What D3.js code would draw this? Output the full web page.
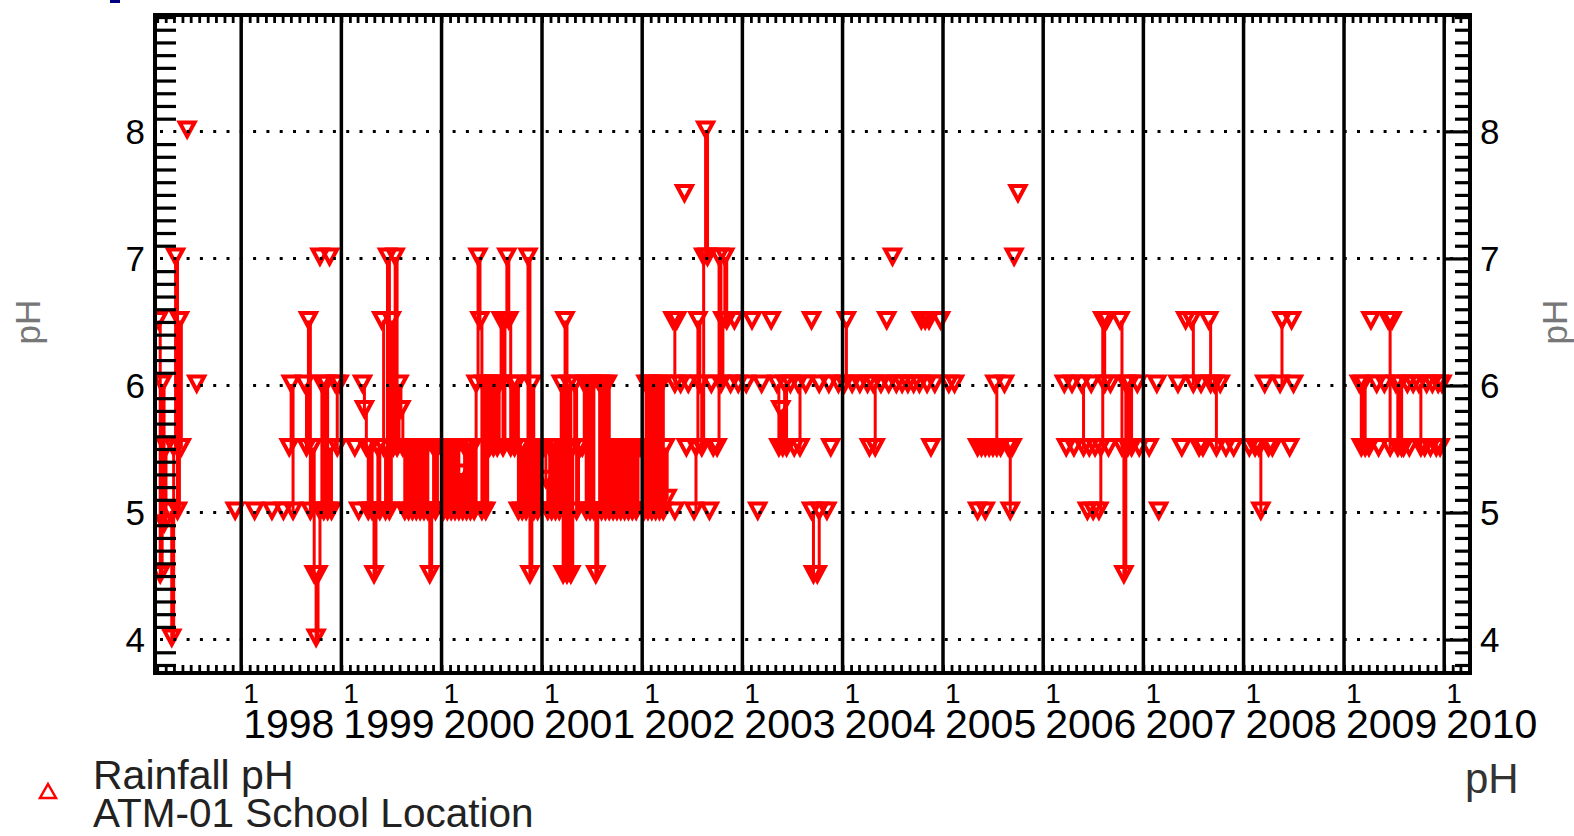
<!DOCTYPE html>
<html><head><meta charset="utf-8">
<script src="https://cdn.jsdelivr.net/npm/d3@7"></script>
<style>
html,body{margin:0;padding:0;background:#fff;}
svg{display:block;}
text{font-family:"Liberation Sans",Arial,sans-serif;}
</style></head><body>
<svg id="chart" width="1574" height="836"></svg>
<script>
// ---- DATA: weekly rainfall pH samples. Each entry: [week of year, consecutive weekly values]
// entries with several values are drawn as a connected run; single values are isolated samples
const ph1997 = [[9,[6.5,4.5,6.0,4.9,5.5]],[15,[5.0,4.0,5.5,7.0,5.0,6.5,5.5]],[24,[8.0]],[29,[6.0]],[49,[5.0]]];
const ph1998 = [[7,[5.0]],[16,[5.0]],[22,[5.0]],[25,[5.5,6.0,5.0]],
  [33,[6.0,5.5,6.5,5.0,5.5,4.5,4.0,4.5,5.0,6.0,5.0,6.0,5.0,5.5,5.0]],
  [41,[7.0]],[46,[7.0]],[49,[6.0,5.5]],[51,[6.0]]];
const ph1999 = [[7,[5.5]],[9,[5.0]],
  [11,[6.0,5.8,5.5,5.0,5.5,5.0,4.5,5.0,5.5,5.0]],
  [21,[6.5,5.5,5.0,7.0,5.0,6.5,5.5,7.0,5.5,6.0,5.8,5.5,5.0,5.5,5.0,5.5,5.0,5.5,5.0,5.5,5.0,5.5,5.0,5.5,5.0,4.5,5.0,5.5,5.0,5.5]]];
const ph2000 = [[0,[5.5,5.0,5.5,5.0,5.5,5.0,5.5,5.0,5.5,5.0,5.3,5.0,5.5,5.0,5.5,5.0,5.5,5.0,6.0,7.0,
  6.5,5.0,6.0,5.0,6.0,5.5,6.0,5.5,6.0,5.5,6.0,6.5,5.5,6.5,7.0,6.5,5.5,6.0,5.5,6.0,
  5.0,5.5,5.0,5.5,5.0,7.0,4.5,6.0,5.0,5.5,5.0,5.5]]];
const ph2001 = [[0,[5.5,5.5,5.25,5.0,5.5,5.0,5.5,5.0,5.5,5.0,6.0,4.5,6.5,4.5,6.0,4.5,5.5,6.0,5.0,5.5,
  5.5,5.5,6.0,5.0,6.0,5.0,6.0,5.0,4.5,5.0,6.0,5.0,6.0,5.0,6.0,5.0,5.5,5.0,5.5,5.0,
  5.5,5.0,5.5,5.0,5.5,5.0,5.5,5.0,5.5,5.0,5.5,5.5]]];
const ph2002 = [[0,[5.5,5.0,6.0,5.0,6.0,5.0,6.0,5.0,6.0,5.0,6.0,5.0,5.5,5.1]],
  [16,[6.5,6.0]],[17,[5.0]],[18,[6.5]],[20,[6.0]],[22,[7.5]],[23,[5.5]],[24,[6.0]],
  [27,[5.0,5.5,6.5,6.0,5.5,7.0,8.0,7.0]],[35,[5.0]],[36,[6.0]],[37,[5.5]],
  [39,[5.5,7.0,6.0,6.5,7.0,6.5]],[46,[6.0]],[48,[6.5]],[50,[6.0]]];
const ph2003 = [[2,[6.0]],[5,[6.5]],[8,[5.0]],[10,[6.0]],[15,[6.5]],
  [18,[6.0,5.5,5.8,5.5,6.0,5.5]],[25,[6.0]],[27,[5.5]],[29,[6.0,5.5]],[33,[6.0]],
  [36,[6.5]],[36,[5.0,4.5]],[39,[4.5,5.0]],[40,[6.0]],[44,[5.0]],[45,[6.0]],[46,[5.5]],[50,[6.0]]];
const ph2004 = [[1,[6.0,6.5]],[5,[6.0]],[9,[6.0]],[13,[6.0]],[14,[5.5]],[16,[6.0,5.5]],[20,[6.0]],
  [23,[6.5]],[24,[6.0]],[26,[7.0]],[28,[6.0]],[31,[6.0]],[34,[6.0]],[37,[6.0]],[40,[6.0]],
  [41,[6.5]],[43,[6.5]],[44,[6.0]],[45,[6.5]],[46,[5.5]],[48,[6.0]],[51,[6.5]]];
const ph2005 = [[3,[6.0]],[6,[6.0]],[18,[5.5]],[18,[5.0]],[20,[5.5]],[22,[5.5]],[22,[5.0]],[24,[5.5]],
  [26,[5.5]],[27,[6.0,5.5]],[30,[5.5]],[32,[6.0]],[34,[5.5,5.0]],[36,[5.5]],[37,[7.0]],[39,[7.5]]];
const ph2006 = [[11,[6.0]],[12,[5.5]],[15,[6.0]],[16,[5.5]],[20,[6.0,5.5]],[23,[5.0]],[24,[5.5]],
  [25,[6.0]],[26,[5.0]],[27,[5.5]],[29,[5.0,5.5,6.5,6.0]],[33,[6.5]],[34,[5.5]],[35,[6.0]],
  [40,[6.5,5.5,4.5,6.0,5.5,6.0,5.5]],[49,[6.0]],[50,[5.5]]];
const ph2007 = [[3,[5.5]],[7,[6.0]],[8,[5.0]],[18,[6.0]],[20,[5.5]],[22,[6.5]],[25,[6.5,6.0]],
  [29,[5.5]],[30,[6.0]],[31,[5.5]],[34,[6.5,6.0]],[37,[6.0,5.5]],[40,[6.0]],[43,[5.5]],[47,[5.5]]];
const ph2008 = [[3,[5.5]],[6,[5.5]],[8,[5.5,5.0]],[11,[6.0]],[13,[5.5]],[15,[5.5]],[19,[6.0,6.5]],
  [24,[5.5]],[25,[6.5]],[26,[6.0]]];
const ph2009 = [[8,[6.0,5.5,6.0,5.5]],[13,[5.5]],[14,[6.5]],[17,[6.0]],[18,[5.5]],[21,[6.0]],
  [23,[6.5,5.5]],[25,[6.5]],[27,[6.0,5.5,6.0,5.5]],[31,[5.5]],[33,[6.0]],[34,[5.5]],[36,[6.0]],
  [39,[6.0,5.5]],[42,[5.5]],[43,[6.0]],[45,[5.5]],[46,[6.0]],[48,[5.5]],[49,[6.0]],[50,[5.5]],[51,[6.0]]];

const sampleYears = [1997,1998,1999,2000,2001,2002,2003,2004,2005,2006,2007,2008,2009];
const yearSamples = [ph1997,ph1998,ph1999,ph2000,ph2001,ph2002,ph2003,ph2004,ph2005,ph2006,ph2007,ph2008,ph2009];
const yTickLabels = [4,5,6,7,8];
const xYearLabels = [1998,1999,2000,2001,2002,2003,2004,2005,2006,2007,2008,2009,2010];
const xDayLabel = "1";
const seriesName = "Rainfall pH";
const siteName = "ATM-01 School Location";
const axisTitle = "pH";

// ---- LAYOUT
const plot = {left:155, right:1470, top:15, bottom:673};
const RED = "#ff0000";
const svg = d3.select("#chart");

const x = d3.scaleTime().domain([new Date(1997,1,21), new Date(2010,3,5)]).range([plot.left, plot.right]);
const y = d3.scaleLinear().domain([3.737, 8.916]).range([plot.bottom, plot.top]);

// build runs
const runs = [];
sampleYears.forEach((yr, k) => {
  yearSamples[k].forEach(([w, vals]) => {
    runs.push(vals.map((v, i) => ({date: new Date(yr, 0, 1 + 7 * (w + i)), v})));
  });
});
const points = runs.flat();

svg.append("defs").append("clipPath").attr("id","clip")
  .append("rect").attr("x",plot.left).attr("y",plot.top)
  .attr("width",plot.right-plot.left).attr("height",plot.bottom-plot.top);

const data = svg.append("g").attr("clip-path","url(#clip)");
const line = d3.line().curve(d3.curveStepAfter).x(d => x(d.date)).y(d => y(d.v));
data.selectAll("path.run").data(runs.filter(r => r.length > 1)).join("path")
  .attr("class","run").attr("d", line)
  .attr("fill","none").attr("stroke",RED).attr("stroke-width",3);
data.selectAll("path.tri").data(points).join("path")
  .attr("class","tri")
  .attr("d","M-7.5,-9L7.5,-9L0,5Z")
  .attr("transform", d => `translate(${x(d.date)},${y(d.v)})`)
  .attr("fill","none").attr("stroke",RED).attr("stroke-width",4);

// dotted grid lines
svg.append("g").selectAll("line").data(yTickLabels).join("line")
  .attr("x1",plot.left).attr("x2",plot.right)
  .attr("y1",d=>y(d)).attr("y2",d=>y(d))
  .attr("stroke","#000").attr("stroke-width",3)
  .attr("stroke-dasharray","3 10.3").attr("stroke-dashoffset",8.3);

// year lines
const yearDates = d3.timeYear.range(new Date(1998,0,1), new Date(2010,0,2));
svg.append("g").selectAll("line").data(yearDates).join("line")
  .attr("x1",d=>x(d)).attr("x2",d=>x(d))
  .attr("y1",plot.top).attr("y2",plot.bottom)
  .attr("stroke","#000").attr("stroke-width",3.5);

function styleAxis(g, w){
  g.select(".domain").remove();
  g.selectAll(".tick line").attr("stroke","#000").attr("stroke-width",w);
}
// month ticks top & bottom
svg.append("g").attr("transform",`translate(0,${plot.top})`)
  .call(d3.axisTop(x).ticks(d3.timeMonth.every(1)).tickSize(-8).tickFormat(""))
  .call(g=>styleAxis(g,2.8));
svg.append("g").attr("transform",`translate(0,${plot.bottom})`)
  .call(d3.axisBottom(x).ticks(d3.timeMonth.every(1)).tickSize(-8).tickFormat(""))
  .call(g=>styleAxis(g,2.8));

// y minor ticks
const minor = d3.range(38, 90).filter(d => d % 10 !== 0).map(d => d / 10);
svg.append("g").attr("transform",`translate(${plot.left},0)`)
  .call(d3.axisLeft(y).tickValues(minor).tickSize(-21).tickFormat(""))
  .call(g=>styleAxis(g,3.2));
svg.append("g").attr("transform",`translate(${plot.right},0)`)
  .call(d3.axisRight(y).tickValues(minor).tickSize(-15).tickFormat(""))
  .call(g=>styleAxis(g,3.2));
svg.append("g").attr("transform",`translate(${plot.right},0)`)
  .call(d3.axisRight(y).tickValues(yTickLabels).tickSize(-26).tickFormat(""))
  .call(g=>styleAxis(g,3.2));

// y labels
function styleLabels(g){
  g.select(".domain").remove();
  g.selectAll("text").attr("font-size",35).attr("font-family","Liberation Sans, Arial, sans-serif")
    .attr("fill","#000").attr("dy","0.34em");
}
svg.append("g").attr("transform",`translate(${plot.left},0)`)
  .call(d3.axisLeft(y).tickValues(yTickLabels).tickSize(0).tickPadding(10).tickFormat(d3.format("d")))
  .call(styleLabels);
svg.append("g").attr("transform",`translate(${plot.right},0)`)
  .call(d3.axisRight(y).tickValues(yTickLabels).tickSize(0).tickPadding(10).tickFormat(d3.format("d")))
  .call(styleLabels);

// frame
svg.append("rect").attr("x",plot.left).attr("y",plot.top)
  .attr("width",plot.right-plot.left).attr("height",plot.bottom-plot.top)
  .attr("fill","none").attr("stroke","#000").attr("stroke-width",4);

// x labels: day "1" over the year, one two-line label per Jan 1
const xl = svg.append("g");
xYearLabels.forEach(yr => {
  const px = x(new Date(yr,0,1)) + 2;
  const t = xl.append("text").attr("fill","#000");
  t.append("tspan").attr("x",px).attr("y",703).attr("font-size",28).text(xDayLabel);
  t.append("tspan").attr("x",px).attr("y",738).attr("font-size",41).text(yr);
});

// rotated axis titles
svg.append("text").attr("transform","translate(40,322) rotate(-90)")
  .attr("text-anchor","middle").attr("font-size",35).attr("fill","#777").text(axisTitle);
svg.append("text").attr("transform","translate(1567,322) rotate(-90)")
  .attr("text-anchor","middle").attr("font-size",35).attr("fill","#777").text(axisTitle);

// legend
svg.append("path").attr("d","M0,-8L8,6L-8,6Z").attr("transform","translate(48,792)")
  .attr("fill","none").attr("stroke",RED).attr("stroke-width",2.5);
svg.append("text").attr("x",93).attr("y",789).attr("font-size",41).attr("fill","#222").text(seriesName);
svg.append("text").attr("x",93).attr("y",827).attr("font-size",40.5).attr("fill","#222").text(siteName);
svg.append("text").attr("x",1465).attr("y",793).attr("font-size",42).attr("fill","#333").text(axisTitle);

// small navy mark at top-left
svg.append("rect").attr("x",110).attr("y",0).attr("width",10).attr("height",3).attr("fill","#000080");
</script>
</body></html>
